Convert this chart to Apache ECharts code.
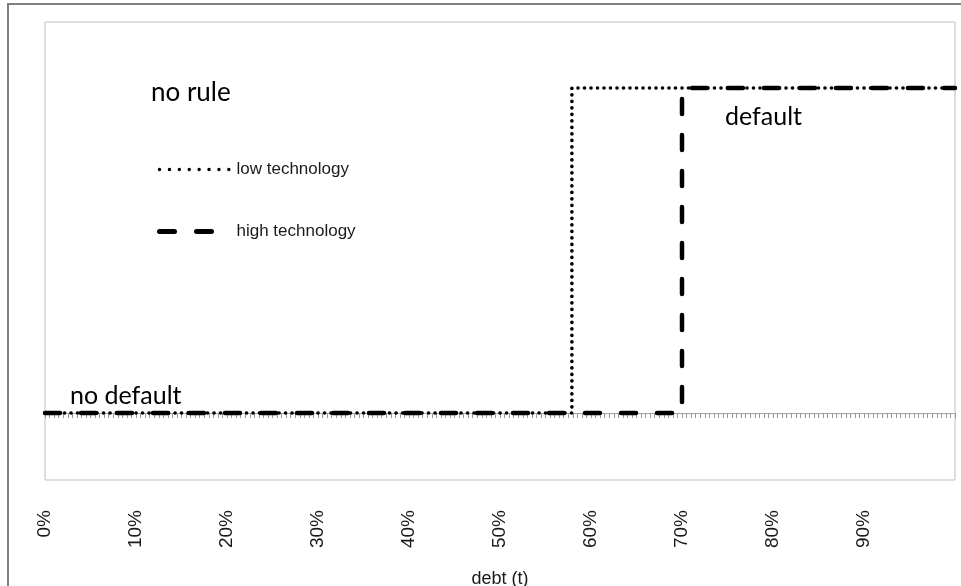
<!DOCTYPE html>
<html>
<head>
<meta charset="utf-8">
<script src="https://cdn.jsdelivr.net/npm/echarts@6/dist/echarts.min.js"></script>
<style>
html,body{margin:0;padding:0;background:#fff;}
#c{width:961px;height:586px;}
</style>
</head>
<body>
<div id="c"></div>
<script>
// Data
const seriesNames = ['low technology', 'high technology'];
const lowTechX = [0, 0.579, 0.579, 1.0];
const lowTechY = [0, 0, 1, 1];
const highTechX = [0, 0.70, 0.70, 1.0];
const highTechY = [0, 0, 1, 1];
const xTickValues = [0, 0.1, 0.2, 0.3, 0.4, 0.5, 0.6, 0.7, 0.8, 0.9];
const annotations = ['no rule', 'default', 'no default'];

function pairs(xs, ys){ return xs.map((x,i)=>[x, ys[i]]); }

const chart = echarts.init(document.getElementById('c'));
chart.setOption({
  animation: false,
  backgroundColor: '#fff',
  grid: {left: 45, top: 22, right: 6, bottom: 106, outerBoundsMode: 'none', containLabel: false,
         show: true, borderColor: '#bfbfbf', borderWidth: 1, backgroundColor: 'transparent'},
  legend: {
    orient: 'vertical', left: 157, top: 161, padding: 0, itemGap: 45, itemWidth: 72, itemHeight: 14,
    itemStyle: {opacity: 0},
    textStyle: {fontFamily: 'Liberation Sans', fontSize: 17, color: '#1a1a1a'},
    data: [
      {name: seriesNames[0], lineStyle: {color: '#000', width: 3.4, type: [0.1, 9.8], cap: 'round'}},
      {name: seriesNames[1], lineStyle: {color: '#000', width: 5, type: [15, 22], cap: 'round'}}
    ]
  },
  xAxis: [
    {type: 'value', min: 0, max: 1, interval: 0.005, position: 'bottom',
     axisLine: {show: true, onZero: true, lineStyle: {color: '#a6a6a6', width: 1}},
     axisTick: {show: true, length: 5, lineStyle: {color: '#999999'}},
     axisLabel: {show: false}, splitLine: {show: false}},
    {type: 'value', min: 0, max: 1, interval: 0.1, position: 'bottom',
     axisLine: {show: false, onZero: false}, axisTick: {show: false}, splitLine: {show: false},
     axisLabel: {show: true, rotate: 90, margin: 30, showMaxLabel: false, padding: [6, 0, 0, 0],
       fontFamily: 'Liberation Sans', fontSize: 19, color: '#1a1a1a',
       formatter: v => { const i = xTickValues.findIndex(t => Math.abs(t - v) < 1e-9); return i >= 0 ? Math.round(xTickValues[i]*100) + '%' : ''; }},
     name: 'debt (t)', nameLocation: 'middle', nameGap: 90,
     nameTextStyle: {fontFamily: 'Liberation Sans', fontSize: 18, color: '#1a1a1a'}}
  ],
  yAxis: {type: 'value', min: -0.206, max: 1.203, show: false, splitLine: {show: false}},
  series: [
    {name: seriesNames[0], type: 'line', xAxisIndex: 0, data: pairs(lowTechX, lowTechY), symbol: 'none',
     lineStyle: {color: '#000', width: 3.6, type: [0.1, 6.4], cap: 'round'}, itemStyle: {color: '#000'}, z: 3},
    {name: seriesNames[1], type: 'line', xAxisIndex: 0, data: pairs(highTechX, highTechY), symbol: 'none',
     lineStyle: {color: '#000', width: 4.5, type: [15, 21], cap: 'round'}, itemStyle: {color: '#000'}, z: 4}
  ],
  graphic: [
    {type: 'rect', shape: {x: 8, y: 4, width: 1000, height: 1000}, style: {fill: 'none', stroke: '#808080', lineWidth: 2}, silent: true},
    {type: 'text', left: 151, top: 80, style: {text: annotations[0], font: '26px Lato', fill: '#000'}},
    {type: 'text', left: 725, top: 104, style: {text: annotations[1], font: '25px Lato', fill: '#000'}},
    {type: 'text', left: 70, top: 383, style: {text: annotations[2], font: '25px Lato', fill: '#000'}}
  ]
});
</script>
</body>
</html>
